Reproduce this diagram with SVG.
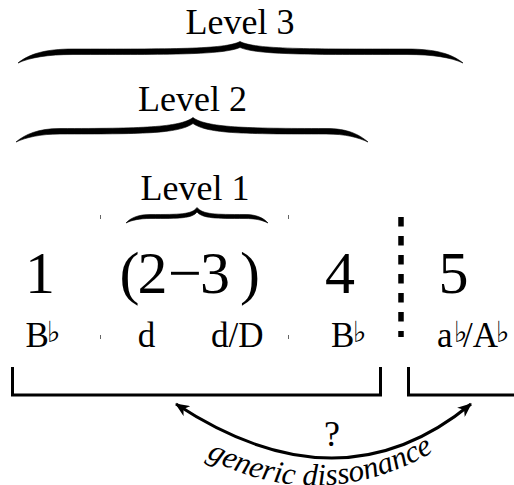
<svg xmlns="http://www.w3.org/2000/svg" width="514" height="485" viewBox="0 0 514 485">
<style>
  .lvl { font-family: "Liberation Serif", "Times New Roman", serif; font-size: 36px; fill: #000; text-anchor: middle; }
  .num { font-family: "Liberation Serif", "Times New Roman", serif; font-size: 60px; fill: #000; text-anchor: middle; }
  .lab { font-family: "Liberation Serif", "Times New Roman", serif; font-size: 35px; fill: #000; }
  .flat { font-family: "DejaVu Serif", "DejaVu Sans", serif; font-size: 29px; }
  .brace { fill: #000; stroke: #000; stroke-width: 0.6; stroke-linejoin: round; }
  .bracket { fill: none; stroke: #000; stroke-width: 3; }
  .tick { stroke: #666; stroke-width: 1; }
  .ital { font-family: "Liberation Serif", "Times New Roman", serif; font-style: italic; font-size: 31px; fill: #000; }
</style>
<defs>
  <marker id="ah" viewBox="0 0 14 12" markerWidth="14" markerHeight="12" refX="13" refY="6" markerUnits="userSpaceOnUse" orient="auto-start-reverse">
    <path d="M0,0 L14,6 L0,12 L4,6 Z" fill="#000"/>
  </marker>
  <path id="txtcurve" d="M188,447 Q318,527 452,441"/>
</defs>

<g id="level3">
  <text class="lvl" x="240" y="33.5">Level 3</text>
  <path class="brace" d="M18,63 C29,54 45,49 73,49 C170,49 225,49.5 240,41.5 C255,49.5 310,49 407,49 C436,49 452,54 463,63 C451,57.5 433,54.5 407,54.5 C310,54.5 258,55 240,47.5 C222,55 170,54.5 73,54.5 C48,54.5 30,57.5 18,63 Z"/>
</g>
<g id="level2">
  <text class="lvl" x="192.5" y="111">Level 2</text>
  <path class="brace" d="M16,142 C25,134.5 38,128.5 60,128.5 C140,128.5 180,127.5 193,117.5 C206,127.5 246,128.5 326,128.5 C348,128.5 359,134.5 368,142 C358,137.5 346,134 326,134 C246,134 208,134 193,123.5 C178,134 140,134 60,134 C40,134 26,137.5 16,142 Z"/>
</g>
<g id="level1">
  <text class="lvl" x="195" y="200">Level 1</text>
  <path class="brace" d="M126,223 C131,217.5 139,214.5 150,214.5 C180,214.5 192,214.5 197,207.5 C203,214.5 215,214.5 245,214.5 C256,214.5 263,217.5 268,223 C262,220 255,218.5 245,218.5 C215,218.5 203,218.5 197,212 C192,218.5 180,218.5 150,218.5 C140,218.5 132,220 126,223 Z"/>
</g>

<g id="ticks">
  <line class="tick" x1="100.5" y1="215" x2="100.5" y2="219"/>
  <line class="tick" x1="288.5" y1="215" x2="288.5" y2="219"/>
  <line class="tick" x1="100.5" y1="335" x2="100.5" y2="339"/>
  <line class="tick" x1="288.5" y1="335" x2="288.5" y2="339"/>
</g>

<g id="chord1">
  <text class="num" x="40" y="293">1</text>
  <text class="lab" x="25.5" y="347">B<tspan class="flat" x="47" y="342">♭</tspan></text>
</g>
<g id="chord23">
  <text class="num" x="129.5" y="293">(</text>
  <text class="num" x="152.5" y="293">2</text>
  <text class="num" x="185" y="293">−</text>
  <text class="num" x="215" y="293">3</text>
  <text class="num" x="250" y="293">)</text>
  <text class="lab" x="146.5" y="347" text-anchor="middle">d</text>
  <text class="lab" x="211" y="347">d/D</text>
</g>
<g id="chord4">
  <text class="num" x="340" y="293">4</text>
  <text class="lab" x="331" y="347">B<tspan class="flat" x="353" y="342">♭</tspan></text>
</g>
<g id="chord5">
  <text class="num" x="453.5" y="293">5</text>
  <text class="lab" x="437" y="347">a<tspan class="flat" x="454" y="342">♭</tspan><tspan x="463" y="347">/A</tspan><tspan class="flat" x="496" y="342">♭</tspan></text>
</g>

<g id="connectors">
  <line x1="401" y1="217" x2="401" y2="337" stroke="#000" stroke-width="5.5" stroke-dasharray="9.5 9.5"/>
  <polyline class="bracket" points="12.5,367 12.5,395 380.5,395 380.5,367"/>
  <polyline class="bracket" points="408.5,367 408.5,395 514,395"/>
  <path d="M176,404 Q340,512 471,404" fill="none" stroke="#000" stroke-width="3" marker-start="url(#ah)" marker-end="url(#ah)"/>
  <text x="332" y="446" text-anchor="middle" font-family="Liberation Serif, Times New Roman, serif" font-size="36">?</text>
  <text class="ital"><textPath href="#txtcurve" startOffset="50%" text-anchor="middle">generic dissonance</textPath></text>
</g>
</svg>
